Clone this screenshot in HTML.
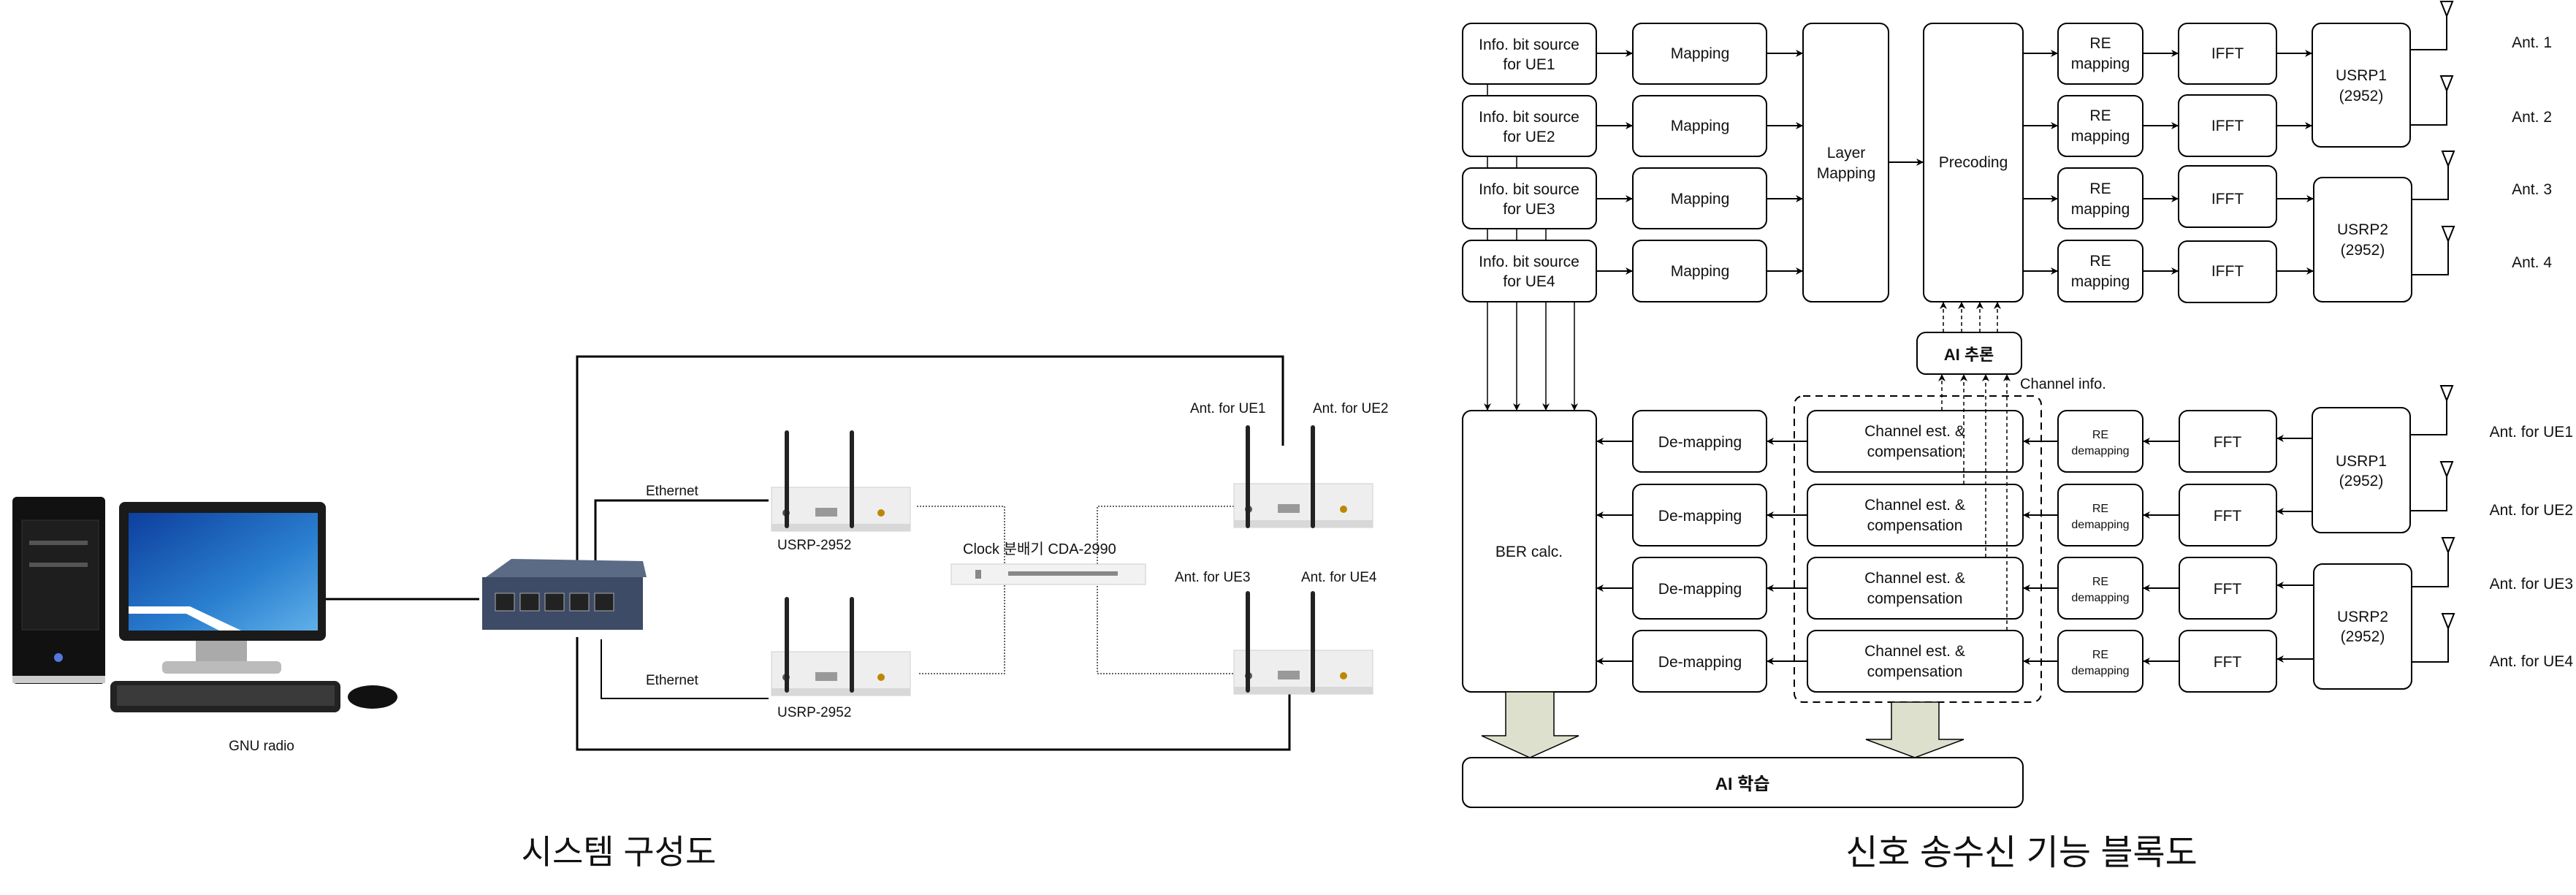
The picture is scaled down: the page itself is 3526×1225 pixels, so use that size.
<!DOCTYPE html>
<html><head><meta charset="utf-8"><style>
html,body{margin:0;padding:0;background:#fff}
svg{display:block}
text{font-family:"Liberation Sans","Noto Sans CJK KR",sans-serif;fill:#111}
</style></head><body>
<svg width="3526" height="1225" viewBox="0 0 3526 1225" xmlns="http://www.w3.org/2000/svg">
<defs>
<marker id="a" markerWidth="10" markerHeight="10" refX="9" refY="5" orient="auto" markerUnits="userSpaceOnUse"><path d="M0,0 L10,5 L0,10 L3,5 Z" fill="#000"/></marker>
<linearGradient id="scr" x1="0" y1="0" x2="1" y2="1"><stop offset="0" stop-color="#0d3f9e"/><stop offset="0.6" stop-color="#2a7fd0"/><stop offset="1" stop-color="#5fb0e8"/></linearGradient>
<g id="usrp">
<rect x="0" y="0" width="190" height="60" fill="#eeeeee" stroke="#cfcfcf"/>
<rect x="0" y="50" width="190" height="10" fill="#d8d8d8"/>
<rect x="60" y="28" width="30" height="12" fill="#999"/>
<circle cx="20" cy="35" r="5" fill="#555"/><circle cx="150" cy="35" r="5" fill="#b80"/>
</g>
</defs>

<!-- ================= LEFT ================= -->
<rect x="17" y="680" width="127" height="256" rx="6" fill="#111"/>
<rect x="30" y="712" width="105" height="150" fill="#1e1e1e" stroke="#333"/>
<rect x="40" y="740" width="80" height="6" fill="#555"/>
<rect x="40" y="770" width="80" height="6" fill="#555"/>
<circle cx="80" cy="900" r="6" fill="#5577dd"/>
<rect x="17" y="925" width="127" height="10" fill="#ccc"/>
<rect x="163" y="687" width="283" height="190" rx="8" fill="#1a1a1a"/>
<rect x="176" y="702" width="259" height="161" fill="url(#scr)"/>
<path d="M176,830 L260,830 L330,863 L300,863 L255,840 L176,840 Z" fill="#fff"/>
<rect x="268" y="877" width="70" height="30" fill="#aaa"/>
<rect x="222" y="905" width="163" height="17" rx="6" fill="#bbb"/>
<rect x="151" y="932" width="315" height="43" rx="8" fill="#222"/>
<rect x="160" y="938" width="298" height="28" fill="#3a3a3a"/>
<ellipse cx="510" cy="954" rx="34" ry="16" fill="#111"/>
<text x="358" y="1027" font-size="19" text-anchor="middle">GNU radio</text>

<line x1="446" y1="820" x2="656" y2="820" stroke="#000" stroke-width="3"/>
<path d="M790,772 L790,488 L1756,488 L1756,610" fill="none" stroke="#000" stroke-width="3"/>
<path d="M790,872 L790,1026 L1765,1026 L1765,950" fill="none" stroke="#000" stroke-width="3"/>
<path d="M815,772 L815,685 L1052,685" fill="none" stroke="#000" stroke-width="3"/>
<path d="M823,875 L823,956 L1052,956" fill="none" stroke="#000" stroke-width="2"/>
<text x="884" y="678" font-size="19">Ethernet</text>
<text x="884" y="937" font-size="19">Ethernet</text>
<path d="M665,790 L700,765 L880,768 L885,790 Z" fill="#5b6a85"/>
<rect x="660" y="790" width="220" height="72" fill="#3e4b66"/>
<g fill="#222" stroke="#aaa"><rect x="678" y="812" width="26" height="24"/><rect x="712" y="812" width="26" height="24"/><rect x="746" y="812" width="26" height="24"/><rect x="780" y="812" width="26" height="24"/><rect x="814" y="812" width="26" height="24"/></g>

<path d="M1255,693 L1375,693 L1375,922 L1257,922" fill="none" stroke="#333" stroke-width="1.5" stroke-dasharray="2,2"/>
<path d="M1689,693 L1502,693 L1502,922 L1689,922" fill="none" stroke="#333" stroke-width="1.5" stroke-dasharray="2,2"/>

<use href="#usrp" x="1056" y="667"/>
<line x1="1077" y1="592" x2="1077" y2="720" stroke="#222" stroke-width="6" stroke-linecap="round"/>
<line x1="1166" y1="592" x2="1166" y2="720" stroke="#222" stroke-width="6" stroke-linecap="round"/>
<text x="1064" y="752" font-size="19">USRP-2952</text>
<use href="#usrp" x="1056" y="892"/>
<line x1="1077" y1="820" x2="1077" y2="945" stroke="#222" stroke-width="6" stroke-linecap="round"/>
<line x1="1166" y1="820" x2="1166" y2="945" stroke="#222" stroke-width="6" stroke-linecap="round"/>
<text x="1064" y="981" font-size="19">USRP-2952</text>
<use href="#usrp" x="1689" y="662"/>
<line x1="1708" y1="585" x2="1708" y2="720" stroke="#222" stroke-width="6" stroke-linecap="round"/>
<line x1="1797" y1="585" x2="1797" y2="720" stroke="#222" stroke-width="6" stroke-linecap="round"/>
<use href="#usrp" x="1689" y="890"/>
<line x1="1708" y1="812" x2="1708" y2="945" stroke="#222" stroke-width="6" stroke-linecap="round"/>
<line x1="1797" y1="812" x2="1797" y2="945" stroke="#222" stroke-width="6" stroke-linecap="round"/>
<text x="1629" y="565" font-size="19">Ant. for UE1</text>
<text x="1797" y="565" font-size="19">Ant. for UE2</text>
<text x="1608" y="796" font-size="19">Ant. for UE3</text>
<text x="1781" y="796" font-size="19">Ant. for UE4</text>
<rect x="1302" y="772" width="266" height="28" fill="#f2f2f2" stroke="#ccc"/>
<g fill="#888"><rect x="1335" y="780" width="8" height="12"/><rect x="1380" y="782" width="150" height="6"/></g>
<text x="1318" y="758" font-size="20">Clock 분배기 CDA-2990</text>

<text x="847" y="1182" font-size="46" text-anchor="middle">시스템 구성도</text>

<!-- ================= RIGHT ================= -->
<!-- info -> BER vertical lines (behind boxes) -->
<g stroke="#000" stroke-width="1.5" marker-end="url(#a)">
<line x1="2036" y1="115" x2="2036" y2="561"/>
<line x1="2076" y1="214" x2="2076" y2="561"/>
<line x1="2116" y1="313" x2="2116" y2="561"/>
<line x1="2155" y1="413" x2="2155" y2="561"/>
</g>
<g fill="#fff" stroke="#000" stroke-width="2">
<rect x="2002" y="32" width="183" height="83" rx="12"/>
<rect x="2002" y="131" width="183" height="83" rx="12"/>
<rect x="2002" y="230" width="183" height="83" rx="12"/>
<rect x="2002" y="329" width="183" height="84" rx="12"/>
<rect x="2235" y="32" width="183" height="83" rx="12"/>
<rect x="2235" y="131" width="183" height="83" rx="12"/>
<rect x="2235" y="230" width="183" height="83" rx="12"/>
<rect x="2235" y="329" width="183" height="84" rx="12"/>
<rect x="2468" y="32" width="117" height="381" rx="12"/>
<rect x="2633" y="32" width="136" height="381" rx="12"/>
<rect x="2817" y="32" width="116" height="83" rx="12"/>
<rect x="2817" y="131" width="116" height="83" rx="12"/>
<rect x="2817" y="230" width="116" height="83" rx="12"/>
<rect x="2817" y="329" width="116" height="84" rx="12"/>
<rect x="2982" y="32" width="134" height="83" rx="12"/>
<rect x="2982" y="130" width="134" height="84" rx="12"/>
<rect x="2982" y="227" width="134" height="84" rx="12"/>
<rect x="2982" y="330" width="134" height="84" rx="12"/>
<rect x="3165" y="32" width="134" height="169" rx="12"/>
<rect x="3167" y="243" width="134" height="170" rx="12"/>
</g>
<g font-size="21" text-anchor="middle">
<text x="2093" y="68">Info. bit source</text><text x="2093" y="95">for UE1</text>
<text x="2093" y="167">Info. bit source</text><text x="2093" y="194">for UE2</text>
<text x="2093" y="266">Info. bit source</text><text x="2093" y="293">for UE3</text>
<text x="2093" y="365">Info. bit source</text><text x="2093" y="392">for UE4</text>
<text x="2327" y="80">Mapping</text><text x="2327" y="179">Mapping</text><text x="2327" y="279">Mapping</text><text x="2327" y="378">Mapping</text>
<text x="2527" y="216">Layer</text><text x="2527" y="244">Mapping</text>
<text x="2701" y="229">Precoding</text>
<text x="2875" y="66">RE</text><text x="2875" y="94">mapping</text>
<text x="2875" y="165">RE</text><text x="2875" y="193">mapping</text>
<text x="2875" y="265">RE</text><text x="2875" y="293">mapping</text>
<text x="2875" y="364">RE</text><text x="2875" y="392">mapping</text>
<text x="3049" y="80">IFFT</text><text x="3049" y="179">IFFT</text><text x="3049" y="279">IFFT</text><text x="3049" y="378">IFFT</text>
<text x="3232" y="110">USRP1</text><text x="3232" y="138">(2952)</text>
<text x="3234" y="321">USRP2</text><text x="3234" y="349">(2952)</text>
<text x="3493" y="65" text-anchor="end">Ant. 1</text>
<text x="3493" y="167" text-anchor="end">Ant. 2</text>
<text x="3493" y="266" text-anchor="end">Ant. 3</text>
<text x="3493" y="366" text-anchor="end">Ant. 4</text>
</g>
<g stroke="#000" stroke-width="2" marker-end="url(#a)">
<line x1="2185" y1="73" x2="2234" y2="73"/><line x1="2185" y1="172" x2="2234" y2="172"/><line x1="2185" y1="272" x2="2234" y2="272"/><line x1="2185" y1="371" x2="2234" y2="371"/>
<line x1="2418" y1="73" x2="2467" y2="73"/><line x1="2418" y1="172" x2="2467" y2="172"/><line x1="2418" y1="272" x2="2467" y2="272"/><line x1="2418" y1="371" x2="2467" y2="371"/>
<line x1="2585" y1="222" x2="2632" y2="222"/>
<line x1="2769" y1="73" x2="2816" y2="73"/><line x1="2769" y1="172" x2="2816" y2="172"/><line x1="2769" y1="272" x2="2816" y2="272"/><line x1="2769" y1="371" x2="2816" y2="371"/>
<line x1="2933" y1="73" x2="2981" y2="73"/><line x1="2933" y1="172" x2="2981" y2="172"/><line x1="2933" y1="272" x2="2981" y2="272"/><line x1="2933" y1="371" x2="2981" y2="371"/>
<line x1="3116" y1="73" x2="3164" y2="73"/><line x1="3116" y1="172" x2="3164" y2="172"/><line x1="3116" y1="272" x2="3166" y2="272"/><line x1="3116" y1="371" x2="3166" y2="371"/>
</g>
<g stroke="#000" stroke-width="2" fill="#fff">
<path d="M3299,68 L3349,68 L3349,22" fill="none"/><path d="M3341,2 L3357,2 L3349,22 Z"/>
<path d="M3299,171 L3349,171 L3349,124" fill="none"/><path d="M3341,104 L3357,104 L3349,124 Z"/>
<path d="M3301,273 L3351,273 L3351,227" fill="none"/><path d="M3343,207 L3359,207 L3351,227 Z"/>
<path d="M3301,376 L3351,376 L3351,330" fill="none"/><path d="M3343,310 L3359,310 L3351,330 Z"/>
</g>
<rect x="2624" y="455" width="143" height="57" rx="12" fill="#fff" stroke="#000" stroke-width="2"/>
<text x="2695" y="493" font-size="22" font-weight="bold" text-anchor="middle">AI 추론</text>
<g stroke="#000" stroke-width="1.5" stroke-dasharray="5,4" marker-end="url(#a)">
<line x1="2660" y1="455" x2="2660" y2="414"/><line x1="2685" y1="455" x2="2685" y2="414"/><line x1="2710" y1="455" x2="2710" y2="414"/><line x1="2734" y1="455" x2="2734" y2="414"/>
</g>
<text x="2765" y="532" font-size="20">Channel info.</text>
<rect x="2456" y="542" width="338" height="419" rx="12" fill="none" stroke="#000" stroke-width="2" stroke-dasharray="10,7"/>
<g fill="#fff" stroke="#000" stroke-width="2">
<rect x="2002" y="562" width="183" height="385" rx="12"/>
<rect x="2235" y="562" width="183" height="84" rx="12"/><rect x="2235" y="663" width="183" height="84" rx="12"/><rect x="2235" y="763" width="183" height="84" rx="12"/><rect x="2235" y="863" width="183" height="84" rx="12"/>
<rect x="2474" y="562" width="295" height="84" rx="12"/><rect x="2474" y="663" width="295" height="84" rx="12"/><rect x="2474" y="763" width="295" height="84" rx="12"/><rect x="2474" y="863" width="295" height="84" rx="12"/>
<rect x="2817" y="562" width="116" height="84" rx="12"/><rect x="2817" y="663" width="116" height="84" rx="12"/><rect x="2817" y="763" width="116" height="84" rx="12"/><rect x="2817" y="863" width="116" height="84" rx="12"/>
<rect x="2983" y="562" width="133" height="84" rx="12"/><rect x="2983" y="663" width="133" height="84" rx="12"/><rect x="2983" y="763" width="133" height="84" rx="12"/><rect x="2983" y="863" width="133" height="84" rx="12"/>
<rect x="3165" y="558" width="134" height="171" rx="12"/>
<rect x="3167" y="772" width="134" height="171" rx="12"/>
</g>
<g stroke="#000" stroke-width="1.5" stroke-dasharray="5,4" marker-end="url(#a)">
<line x1="2658" y1="562" x2="2658" y2="513"/>
<line x1="2688" y1="663" x2="2688" y2="513"/>
<line x1="2718" y1="763" x2="2718" y2="513"/>
<line x1="2747" y1="863" x2="2747" y2="513"/>
</g>
<g font-size="21" text-anchor="middle">
<text x="2093" y="762">BER calc.</text>
<text x="2327" y="612">De-mapping</text><text x="2327" y="713">De-mapping</text><text x="2327" y="813">De-mapping</text><text x="2327" y="913">De-mapping</text>
<text x="2621" y="597">Channel est. &amp;</text><text x="2621" y="625">compensation</text>
<text x="2621" y="698">Channel est. &amp;</text><text x="2621" y="726">compensation</text>
<text x="2621" y="798">Channel est. &amp;</text><text x="2621" y="826">compensation</text>
<text x="2621" y="898">Channel est. &amp;</text><text x="2621" y="926">compensation</text>
<text x="3049" y="612">FFT</text><text x="3049" y="713">FFT</text><text x="3049" y="813">FFT</text><text x="3049" y="913">FFT</text>
<text x="3232" y="638">USRP1</text><text x="3232" y="665">(2952)</text>
<text x="3234" y="851">USRP2</text><text x="3234" y="878">(2952)</text>
<text x="3522" y="598" text-anchor="end">Ant. for UE1</text>
<text x="3522" y="705" text-anchor="end">Ant. for UE2</text>
<text x="3522" y="806" text-anchor="end">Ant. for UE3</text>
<text x="3522" y="912" text-anchor="end">Ant. for UE4</text>
</g>
<g font-size="16" text-anchor="middle">
<text x="2875" y="600">RE</text><text x="2875" y="622">demapping</text>
<text x="2875" y="701">RE</text><text x="2875" y="723">demapping</text>
<text x="2875" y="801">RE</text><text x="2875" y="823">demapping</text>
<text x="2875" y="901">RE</text><text x="2875" y="923">demapping</text>
</g>
<g stroke="#000" stroke-width="2" marker-end="url(#a)">
<line x1="3165" y1="600" x2="3117" y2="600"/><line x1="3165" y1="700" x2="3117" y2="700"/><line x1="3167" y1="801" x2="3117" y2="801"/><line x1="3167" y1="902" x2="3117" y2="902"/>
<line x1="2983" y1="604" x2="2934" y2="604"/><line x1="2983" y1="705" x2="2934" y2="705"/><line x1="2983" y1="805" x2="2934" y2="805"/><line x1="2983" y1="905" x2="2934" y2="905"/>
<line x1="2817" y1="604" x2="2770" y2="604"/><line x1="2817" y1="705" x2="2770" y2="705"/><line x1="2817" y1="805" x2="2770" y2="805"/><line x1="2817" y1="905" x2="2770" y2="905"/>
<line x1="2474" y1="604" x2="2419" y2="604"/><line x1="2474" y1="705" x2="2419" y2="705"/><line x1="2474" y1="805" x2="2419" y2="805"/><line x1="2474" y1="905" x2="2419" y2="905"/>
<line x1="2235" y1="604" x2="2186" y2="604"/><line x1="2235" y1="705" x2="2186" y2="705"/><line x1="2235" y1="805" x2="2186" y2="805"/><line x1="2235" y1="905" x2="2186" y2="905"/>
</g>
<g stroke="#000" stroke-width="2" fill="#fff">
<path d="M3299,595 L3349,595 L3349,548" fill="none"/><path d="M3341,528 L3357,528 L3349,548 Z"/>
<path d="M3299,699 L3349,699 L3349,652" fill="none"/><path d="M3341,632 L3357,632 L3349,652 Z"/>
<path d="M3301,803 L3351,803 L3351,756" fill="none"/><path d="M3343,736 L3359,736 L3351,756 Z"/>
<path d="M3301,906 L3351,906 L3351,860" fill="none"/><path d="M3343,840 L3359,840 L3351,860 Z"/>
</g>
<g fill="#dde0cc" stroke="#000" stroke-width="1.5">
<path d="M2061,947 L2127,947 L2127,1007 L2161,1007 L2094,1037 L2028,1007 L2061,1007 Z"/>
<path d="M2589,961 L2654,961 L2654,1012 L2688,1012 L2621,1037 L2554,1012 L2589,1012 Z"/>
</g>
<rect x="2002" y="1037" width="767" height="68" rx="12" fill="#fff" stroke="#000" stroke-width="2"/>
<text x="2385" y="1081" font-size="24" font-weight="bold" text-anchor="middle">AI 학습</text>
<text x="2767" y="1183" font-size="48" text-anchor="middle">신호 송수신 기능 블록도</text>
</svg>
</body></html>
